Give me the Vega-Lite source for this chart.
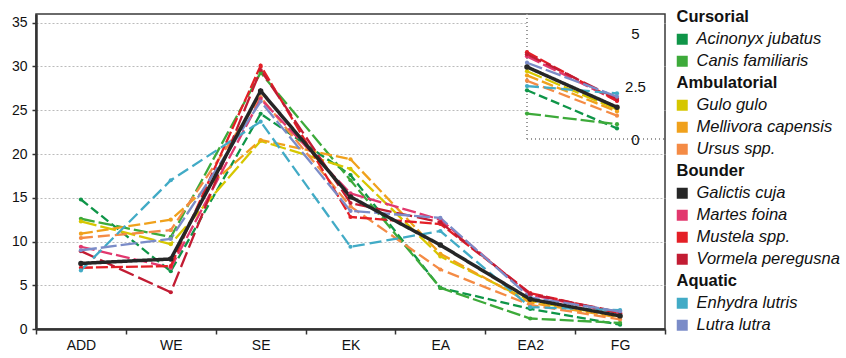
{
  "$schema": "https://vega.github.io/schema/vega-lite/v6.json",
  "autosize": {"type": "none"},
  "padding": {"left": 36, "top": 14, "right": 181, "bottom": 29},
  "width": 629,
  "height": 315,
  "config": {
    "font": "Liberation Sans",
    "view": {"stroke": "#3a3a3a", "strokeWidth": 1.5},
    "axis": {"labelFont": "Liberation Sans", "labelColor": "#111111", "labelFontSize": 14, "domainColor": "#333333", "tickColor": "#333333"}
  },
  "datasets": {
    "d": [
      {"species": "Acinonyx jubatus", "trait": "ADD", "value": 14.8},
      {"species": "Acinonyx jubatus", "trait": "WE", "value": 6.6},
      {"species": "Acinonyx jubatus", "trait": "SE", "value": 24.6},
      {"species": "Acinonyx jubatus", "trait": "EK", "value": 17.6},
      {"species": "Acinonyx jubatus", "trait": "EA", "value": 4.7},
      {"species": "Acinonyx jubatus", "trait": "EA2", "value": 2.3},
      {"species": "Acinonyx jubatus", "trait": "FG", "value": 0.5},
      {"species": "Canis familiaris", "trait": "ADD", "value": 12.6},
      {"species": "Canis familiaris", "trait": "WE", "value": 10.5},
      {"species": "Canis familiaris", "trait": "SE", "value": 29.3},
      {"species": "Canis familiaris", "trait": "EK", "value": 17.0},
      {"species": "Canis familiaris", "trait": "EA", "value": 4.7},
      {"species": "Canis familiaris", "trait": "EA2", "value": 1.2},
      {"species": "Canis familiaris", "trait": "FG", "value": 0.7},
      {"species": "Gulo gulo", "trait": "ADD", "value": 12.3},
      {"species": "Gulo gulo", "trait": "WE", "value": 9.7},
      {"species": "Gulo gulo", "trait": "SE", "value": 21.5},
      {"species": "Gulo gulo", "trait": "EK", "value": 18.3},
      {"species": "Gulo gulo", "trait": "EA", "value": 8.3},
      {"species": "Gulo gulo", "trait": "EA2", "value": 3.2},
      {"species": "Gulo gulo", "trait": "FG", "value": 1.4},
      {"species": "Mellivora capensis", "trait": "ADD", "value": 10.9},
      {"species": "Mellivora capensis", "trait": "WE", "value": 12.5},
      {"species": "Mellivora capensis", "trait": "SE", "value": 21.6},
      {"species": "Mellivora capensis", "trait": "EK", "value": 19.4},
      {"species": "Mellivora capensis", "trait": "EA", "value": 8.6},
      {"species": "Mellivora capensis", "trait": "EA2", "value": 3.0},
      {"species": "Mellivora capensis", "trait": "FG", "value": 1.3},
      {"species": "Ursus spp.", "trait": "ADD", "value": 10.4},
      {"species": "Ursus spp.", "trait": "WE", "value": 11.3},
      {"species": "Ursus spp.", "trait": "SE", "value": 26.5},
      {"species": "Ursus spp.", "trait": "EK", "value": 14.0},
      {"species": "Ursus spp.", "trait": "EA", "value": 6.8},
      {"species": "Ursus spp.", "trait": "EA2", "value": 2.75},
      {"species": "Ursus spp.", "trait": "FG", "value": 1.1},
      {"species": "Martes foina", "trait": "ADD", "value": 9.4},
      {"species": "Martes foina", "trait": "WE", "value": 7.0},
      {"species": "Martes foina", "trait": "SE", "value": 26.3},
      {"species": "Martes foina", "trait": "EK", "value": 15.5},
      {"species": "Martes foina", "trait": "EA", "value": 12.5},
      {"species": "Martes foina", "trait": "EA2", "value": 3.9},
      {"species": "Martes foina", "trait": "FG", "value": 1.8},
      {"species": "Mustela spp.", "trait": "ADD", "value": 7.0},
      {"species": "Mustela spp.", "trait": "WE", "value": 7.2},
      {"species": "Mustela spp.", "trait": "SE", "value": 30.1},
      {"species": "Mustela spp.", "trait": "EK", "value": 12.8},
      {"species": "Mustela spp.", "trait": "EA", "value": 12.0},
      {"species": "Mustela spp.", "trait": "EA2", "value": 4.1},
      {"species": "Mustela spp.", "trait": "FG", "value": 1.8},
      {"species": "Vormela peregusna", "trait": "ADD", "value": 8.9},
      {"species": "Vormela peregusna", "trait": "WE", "value": 4.2},
      {"species": "Vormela peregusna", "trait": "SE", "value": 29.6},
      {"species": "Vormela peregusna", "trait": "EK", "value": 14.4},
      {"species": "Vormela peregusna", "trait": "EA", "value": 12.2},
      {"species": "Vormela peregusna", "trait": "EA2", "value": 4.0},
      {"species": "Vormela peregusna", "trait": "FG", "value": 1.9},
      {"species": "Enhydra lutris", "trait": "ADD", "value": 6.7},
      {"species": "Enhydra lutris", "trait": "WE", "value": 17.0},
      {"species": "Enhydra lutris", "trait": "SE", "value": 23.7},
      {"species": "Enhydra lutris", "trait": "EK", "value": 9.4},
      {"species": "Enhydra lutris", "trait": "EA", "value": 11.2},
      {"species": "Enhydra lutris", "trait": "EA2", "value": 2.5},
      {"species": "Enhydra lutris", "trait": "FG", "value": 2.15},
      {"species": "Lutra lutra", "trait": "ADD", "value": 9.0},
      {"species": "Lutra lutra", "trait": "WE", "value": 10.3},
      {"species": "Lutra lutra", "trait": "SE", "value": 26.0},
      {"species": "Lutra lutra", "trait": "EK", "value": 13.5},
      {"species": "Lutra lutra", "trait": "EA", "value": 12.7},
      {"species": "Lutra lutra", "trait": "EA2", "value": 3.6},
      {"species": "Lutra lutra", "trait": "FG", "value": 2.0},
      {"species": "Galictis cuja", "trait": "ADD", "value": 7.5},
      {"species": "Galictis cuja", "trait": "WE", "value": 8.0},
      {"species": "Galictis cuja", "trait": "SE", "value": 27.2},
      {"species": "Galictis cuja", "trait": "EK", "value": 15.1},
      {"species": "Galictis cuja", "trait": "EA", "value": 9.6},
      {"species": "Galictis cuja", "trait": "EA2", "value": 3.4},
      {"species": "Galictis cuja", "trait": "FG", "value": 1.5}
    ]
  },
  "data": {"name": "d"},
  "encoding": {
    "color": {
      "field": "species",
      "type": "nominal",
      "scale": {
        "domain": ["Cursorial", "Acinonyx jubatus", "Canis familiaris", "Ambulatorial", "Gulo gulo", "Mellivora capensis", "Ursus spp.", "Bounder", "Galictis cuja", "Martes foina", "Mustela spp.", "Vormela peregusna", "Aquatic", "Enhydra lutris", "Lutra lutra"],
        "range": ["#ffffff", "#0f9548", "#3daa3a", "#ffffff", "#d6c700", "#f0a11c", "#f48b45", "#ffffff", "#262626", "#e2386e", "#e41f26", "#c21c33", "#ffffff", "#42abc6", "#7b8cc8"]
      },
      "legend": {
        "orient": "none",
        "legendX": 638,
        "legendY": -5,
        "title": null,
        "padding": 0,
        "symbolType": "square",
        "symbolSize": 121,
        "symbolStrokeWidth": 0,
        "symbolOpacity": 1,
        "labelFont": "Liberation Sans",
        "labelFontSize": 16.5,
        "labelColor": "#111111",
        "labelOffset": 6,
        "labelLimit": 200,
        "rowPadding": 5,
        "encode": {
          "symbols": {"update": {
            "fill": {"signal": "indexof(['Cursorial','Ambulatorial','Bounder','Aquatic'], datum.value) >= 0 ? 'transparent' : scale('color', datum.value)"},
            "stroke": {"value": "transparent"},
            "strokeDash": {"value": [1, 0]}
          }},
          "labels": {"update": {
            "fontWeight": {"signal": "indexof(['Cursorial','Ambulatorial','Bounder','Aquatic'], datum.value) >= 0 ? 'bold' : 'normal'"},
            "fontStyle": {"signal": "indexof(['Cursorial','Ambulatorial','Bounder','Aquatic'], datum.value) >= 0 ? 'normal' : 'italic'"},
            "dx": {"signal": "indexof(['Cursorial','Ambulatorial','Bounder','Aquatic'], datum.value) >= 0 ? -20 : 0"}
          }}
        }
      }
    },
    "strokeDash": {
      "field": "species",
      "type": "nominal",
      "scale": {
        "domain": ["Acinonyx jubatus", "Canis familiaris", "Gulo gulo", "Mellivora capensis", "Ursus spp.", "Galictis cuja", "Martes foina", "Mustela spp.", "Vormela peregusna", "Enhydra lutris", "Lutra lutra"],
        "range": [[9, 4], [14, 4], [16, 4], [12, 4], [12, 5], [1, 0], [14, 4], [12, 3], [16, 5], [12, 5], [16, 4]]
      },
      "legend": null
    }
  },
  "layer": [
    {
      "encoding": {
        "x": {
          "field": "trait",
          "type": "nominal",
          "sort": ["ADD", "WE", "SE", "EK", "EA", "EA2", "FG"],
          "scale": {"type": "band", "domain": ["ADD", "WE", "SE", "EK", "EA", "EA2", "FG"], "paddingInner": 0, "paddingOuter": 0},
          "axis": {"title": null, "labelAngle": 0, "tickBand": "extent", "domainWidth": 2.5, "tickSize": 5, "tickWidth": 1.5, "labelPadding": 4, "grid": false}
        },
        "y": {
          "field": "value",
          "type": "quantitative",
          "scale": {"domain": [0, 36], "nice": false},
          "axis": {"title": null, "values": [0, 5, 10, 15, 20, 25, 30, 35], "grid": true, "gridDash": [2, 2], "gridColor": "#bbbbbb", "domainWidth": 2.5, "tickSize": 4, "tickWidth": 1.5, "labelPadding": 5}
        }
      },
      "layer": [
        {
          "mark": {"type": "line", "strokeCap": "butt"},
          "encoding": {
            "strokeWidth": {"condition": {"test": "datum.species == 'Galictis cuja'", "value": 3.5}, "value": 2.3}
          }
        },
        {
          "mark": {"type": "point", "filled": true, "opacity": 1},
          "encoding": {
            "size": {"condition": {"test": "datum.species == 'Galictis cuja'", "value": 30}, "value": 18}
          }
        }
      ]
    },
    {
      "transform": [{"filter": "datum.trait == 'EA2' || datum.trait == 'FG'"}],
      "layer": [
        {
          "mark": {"type": "rect", "fill": "#ffffff", "strokeWidth": 0},
          "encoding": {
            "x": {"datum": "EA2", "type": "nominal", "scale": {"type": "point", "domain": ["EA2", "FG"], "range": [491, 581], "padding": 0}, "axis": null},
            "x2": {"value": {"expr": "width - 1"}},
            "y": {"datum": 0, "type": "quantitative", "scale": {"domain": [0, 5.9], "range": [125, 0], "nice": false, "zero": false}, "axis": {"orient": "right", "offset": -34, "values": [0, 2.5, 5], "format": ".2~g", "domain": false, "ticks": false, "grid": false, "labelAlign": "center", "labelPadding": 4, "labelFontSize": 15, "title": null, "zindex": 2}},
            "y2": {"datum": 5.85},
            "color": {"value": "#ffffff"},
            "strokeDash": {"value": [1, 0]}
          }
        },
        {
          "mark": {"type": "rule", "color": "#999999", "strokeDash": [1, 3], "strokeWidth": 1},
          "encoding": {
            "x": {"datum": "EA2", "type": "nominal"},
            "y": {"datum": 0, "type": "quantitative"},
            "y2": {"datum": 5.9},
            "color": {"value": "#999999"},
            "strokeDash": {"value": [1, 3]}
          }
        },
        {
          "mark": {"type": "rule", "color": "#999999", "strokeDash": [1, 3], "strokeWidth": 1},
          "encoding": {
            "x": {"datum": "EA2", "type": "nominal"},
            "x2": {"value": "width"},
            "y": {"datum": 0, "type": "quantitative"},
            "color": {"value": "#999999"},
            "strokeDash": {"value": [1, 3]}
          }
        },
        {
          "mark": {"type": "line", "strokeCap": "butt"},
          "encoding": {
            "x": {"field": "trait", "type": "nominal"},
            "y": {"field": "value", "type": "quantitative"},
            "strokeWidth": {"condition": {"test": "datum.species == 'Galictis cuja'", "value": 3.5}, "value": 2.3}
          }
        },
        {
          "mark": {"type": "point", "filled": true, "opacity": 1},
          "encoding": {
            "x": {"field": "trait", "type": "nominal"},
            "y": {"field": "value", "type": "quantitative"},
            "size": {"condition": {"test": "datum.species == 'Galictis cuja'", "value": 30}, "value": 18}
          }
        }
      ]
    }
  ],
  "resolve": {"scale": {"x": "independent", "y": "independent"}}
}
